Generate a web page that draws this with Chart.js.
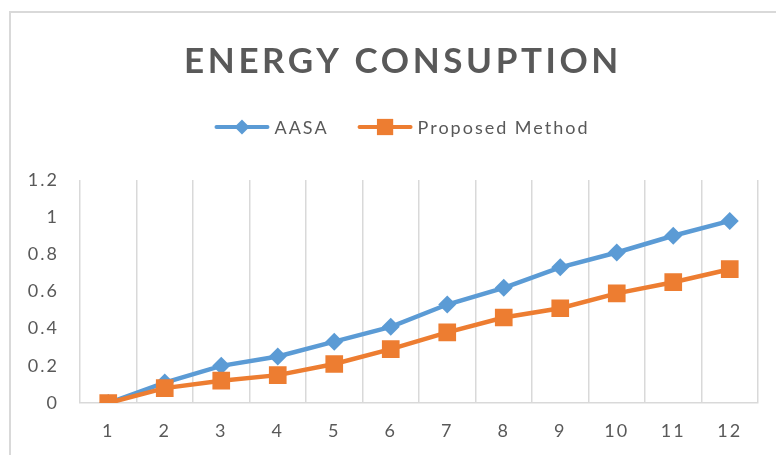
<!DOCTYPE html>
<html>
<head>
<meta charset="utf-8">
<script src="https://cdn.jsdelivr.net/npm/chart.js@4/dist/chart.umd.min.js"></script>
<style>
  html, body { margin: 0; padding: 0; background: #ffffff; }
  #wrap { width: 776px; height: 455px; position: relative; }
</style>
</head>
<body>
<div id="wrap"><canvas id="chart"></canvas></div>
<script>
// Energy consumption per step for the two methods
const categories = ['1', '2', '3', '4', '5', '6', '7', '8', '9', '10', '11', '12'];
const aasaValues = [0, 0.11, 0.20, 0.25, 0.33, 0.41, 0.53, 0.62, 0.73, 0.81, 0.90, 0.98];
const proposedValues = [0, 0.08, 0.12, 0.15, 0.21, 0.29, 0.38, 0.46, 0.51, 0.59, 0.65, 0.72];
const seriesNames = ['AASA', 'Proposed Method'];
const titleText = 'ENERGY CONSUPTION';

const BLUE = '#5B9BD5';
const ORANGE = '#ED7D31';
const TEXT = '#595959';
const GRID = '#D9D9D9';
const FONT = 'Lato, "Open Sans", sans-serif';

// Outer frame, spaced title and a line-and-marker legend
const decor = {
  id: 'decor',
  beforeUpdate(chart) { chart.ctx.letterSpacing = '2px'; },
  beforeDraw(chart) {
    const ctx = chart.ctx;
    ctx.letterSpacing = '2px';
    ctx.save();
    ctx.strokeStyle = GRID;
    ctx.lineWidth = 2;
    ctx.strokeRect(10, 12, 800, 500);
    ctx.restore();
  },
  afterDraw(chart) {
    const ctx = chart.ctx;
    const cx = 401;

    // title
    ctx.save();
    ctx.letterSpacing = '3.6px';
    ctx.font = 'bold 35px ' + FONT;
    ctx.fillStyle = TEXT;
    ctx.textAlign = 'center';
    ctx.textBaseline = 'alphabetic';
    ctx.fillText(titleText, cx + 2, 73);
    ctx.restore();

    // legend
    ctx.save();
    ctx.letterSpacing = '2px';
    ctx.font = '18px ' + FONT;
    ctx.textBaseline = 'middle';
    ctx.textAlign = 'left';
    const swatch = 55, textGap = 5, itemGap = 29, y = 127;
    const items = chart.data.datasets.map((ds) => {
      const w = swatch + textGap + ctx.measureText(ds.label).width;
      return { ds, w };
    });
    const total = items.reduce((s, it) => s + it.w, 0) + itemGap * (items.length - 1);
    let x = cx + 1 - total / 2;
    items.forEach(({ ds, w }) => {
      ctx.strokeStyle = ds.borderColor;
      ctx.lineWidth = 4;
      ctx.lineCap = 'round';
      ctx.beginPath();
      ctx.moveTo(x + 2, y);
      ctx.lineTo(x + swatch - 2, y);
      ctx.stroke();
      ctx.fillStyle = ds.backgroundColor;
      Chart.helpers.drawPoint(ctx, {
        pointStyle: ds.pointStyle,
        radius: ds.legendRadius,
        borderWidth: 0,
        rotation: 0
      }, x + swatch / 2, y);
      ctx.fillStyle = TEXT;
      ctx.fillText(ds.label, x + swatch + textGap, y + 1);
      x += w + itemGap;
    });
    ctx.restore();
  }
};

new Chart(document.getElementById('chart'), {
  type: 'line',
  data: {
    labels: categories,
    datasets: [
      {
        label: seriesNames[0],
        data: aasaValues,
        borderColor: BLUE,
        backgroundColor: BLUE,
        borderWidth: 4.5,
        pointStyle: 'rectRot',
        pointRadius: 9,
        pointHoverRadius: 9,
        pointBorderWidth: 0,
        legendRadius: 7.5,
        tension: 0,
        order: 1
      },
      {
        label: seriesNames[1],
        data: proposedValues,
        borderColor: ORANGE,
        backgroundColor: ORANGE,
        borderWidth: 4.5,
        pointStyle: 'rect',
        pointRadius: 12.5,
        pointHoverRadius: 12.5,
        pointBorderWidth: 0,
        legendRadius: 11.5,
        tension: 0,
        order: 0
      }
    ]
  },
  options: {
    responsive: true,
    maintainAspectRatio: false,
    animation: false,
    layout: { padding: { top: 180, left: 0, right: 18, bottom: 0 } },
    plugins: {
      title: { display: false },
      legend: { display: false },
      tooltip: { enabled: false }
    },
    scales: {
      x: {
        offset: true,
        grid: { display: true, offset: true, color: GRID, lineWidth: 1.5, drawTicks: false },
        border: { display: true, color: GRID, width: 1.5 },
        ticks: { color: TEXT, font: { family: FONT, size: 18 }, padding: 17, maxRotation: 0 },
        afterFit(scale) { scale.height = 52; }
      },
      y: {
        min: 0,
        max: 1.2,
        grid: { display: false, drawTicks: false },
        border: { display: false },
        ticks: {
          stepSize: 0.2,
          color: TEXT,
          font: { family: FONT, size: 18 },
          padding: 21,
          callback: (v) => String(Math.round(v * 10) / 10)
        },
        afterFit(scale) { scale.width = 80; }
      }
    }
  },
  plugins: [decor]
});
</script>
</body>
</html>
